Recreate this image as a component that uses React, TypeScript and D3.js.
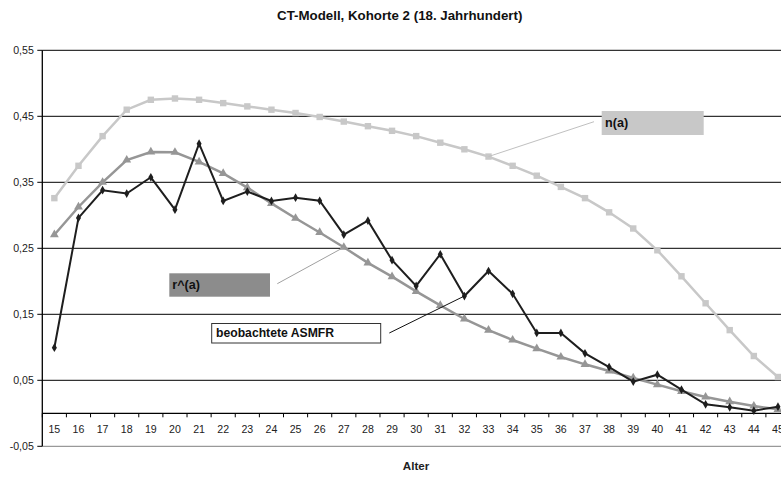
import React from "react";
import * as d3 from "d3";

const ages = d3.range(15, 46).map(String);
const nA = [0.326, 0.375, 0.42, 0.46, 0.475, 0.477, 0.475, 0.47, 0.465, 0.46, 0.455, 0.449, 0.442, 0.435, 0.428, 0.42, 0.41, 0.4, 0.389, 0.375, 0.36, 0.343, 0.326, 0.3045, 0.28, 0.247, 0.2076, 0.1667, 0.126, 0.0868, 0.055];
const rHat = [0.2706, 0.3126, 0.35, 0.3838, 0.396, 0.3955, 0.381, 0.3636, 0.342, 0.318, 0.2955, 0.274, 0.2515, 0.228, 0.207, 0.1848, 0.1636, 0.1429, 0.126, 0.111, 0.098, 0.0853, 0.0742, 0.064, 0.0535, 0.0434, 0.0333, 0.0247, 0.0176, 0.011, 0.006];
const asmfr = [0.0994, 0.296, 0.338, 0.333, 0.3576, 0.3085, 0.4085, 0.3217, 0.336, 0.3217, 0.3267, 0.322, 0.2706, 0.2918, 0.232, 0.193, 0.241, 0.1777, 0.2156, 0.181, 0.1217, 0.1217, 0.0909, 0.07, 0.048, 0.0585, 0.0358, 0.0136, 0.009, 0.004, 0.01];
const yTicks = [-0.05, 0.05, 0.15, 0.25, 0.35, 0.45, 0.55];
const gridVals = [0.05, 0.15, 0.25, 0.35, 0.45, 0.55];

const W = 781, H = 477;
const left = 42.3, bandW = 24.12;
const FONT = "'Liberation Sans', Arial, sans-serif";

export default function App() {
  const x = d3.scaleBand<string>().domain(ages).range([left, left + bandW * ages.length]).paddingInner(0).paddingOuter(0);
  const y = d3.scaleLinear().domain([-0.05, 0.55]).range([446.3, 50.3]);
  const cx = (i: number) => (x(ages[i]) as number) + x.bandwidth() / 2;
  const line = d3.line<number>().x((_, i) => cx(i)).y((d) => y(d));
  const right = left + bandW * ages.length;
  const fmt = (v: number) => v.toFixed(2).replace(".", ",");

  const idx = (a: number) => a - 15;

  return (
    <svg width={W} height={H} style={{ position: "absolute", left: 0, top: 0, background: "#fff" }} fontFamily={FONT}>
      <rect x={0} y={0} width={W} height={H} fill="#fff" />
      <text x={399.7} y={20} textAnchor="middle" fontSize={13.3} fontWeight="bold" fill="#111">CT-Modell, Kohorte 2 (18. Jahrhundert)</text>
      {/* gridlines */}
      {gridVals.map((v) => (
        <line key={v} x1={left} x2={right} y1={y(v)} y2={y(v)} stroke="#000" strokeWidth={1} />
      ))}
      {/* bottom border */}
      <line x1={left} x2={right} y1={y(-0.05)} y2={y(-0.05)} stroke="#808080" strokeWidth={1} />
      {/* y axis */}
      <line x1={left} x2={left} y1={y(0.55)} y2={y(-0.05)} stroke="#000" strokeWidth={1.3} />
      {yTicks.map((v) => (
        <g key={v}>
          <line x1={left - 5} x2={left} y1={y(v)} y2={y(v)} stroke="#000" />
          <text x={left - 8.5} y={y(v) + 3.8} textAnchor="end" fontSize={10.6} fill="#222">{fmt(v)}</text>
        </g>
      ))}
      {/* x axis at 0 */}
      <line x1={left} x2={right} y1={y(0)} y2={y(0)} stroke="#000" strokeWidth={1.2} />
      {ages.map((a, i) => (
        <g key={a}>
          <line x1={x(a) as number} x2={x(a) as number} y1={y(0)} y2={y(0) + 4} stroke="#000" />
          <text x={cx(i)} y={y(0) + 20} textAnchor="middle" fontSize={10.6} fill="#222">{a}</text>
        </g>
      ))}
      <text x={416} y={470} textAnchor="middle" fontSize={11.6} fontWeight="bold" fill="#222">Alter</text>

      {/* n(a) */}
      <path d={line(nA) as string} fill="none" stroke="#c8c8c8" strokeWidth={2.5} />
      {nA.map((v, i) => (
        <rect key={i} x={cx(i) - 3.2} y={y(v) - 3.2} width={6.4} height={6.4} fill="#c8c8c8" />
      ))}
      {/* r^(a) */}
      <path d={line(rHat) as string} fill="none" stroke="#969696" strokeWidth={2.5} />
      {rHat.map((v, i) => (
        <path key={i} d={d3.symbol(d3.symbolTriangle, 34)() as string} transform={`translate(${cx(i)},${y(v)})`} fill="#969696" />
      ))}
      {/* ASMFR */}
      <path d={line(asmfr) as string} fill="none" stroke="#1e1e1e" strokeWidth={2} />
      {asmfr.map((v, i) => (
        <path key={i} d={d3.symbol(d3.symbolDiamond, 22)() as string} transform={`translate(${cx(i)},${y(v)})`} fill="#1e1e1e" />
      ))}

      {/* annotation n(a) */}
      <line x1={cx(idx(33))} y1={y(nA[idx(33)])} x2={594} y2={121.7} stroke="#c0c0c0" strokeWidth={1} />
      <rect x={601.7} y={111} width={102} height={24} fill="#c8c8c8" />
      <text x={605} y={127} fontSize={12.6} fontWeight="bold" fill="#111">n(a)</text>

      {/* annotation r^(a) */}
      <line x1={cx(idx(27))} y1={y(rHat[idx(27)])} x2={277.3} y2={283.7} stroke="#a0a0a0" strokeWidth={1} />
      <rect x={169.3} y={273.3} width={100.7} height={23.4} fill="#8c8c8c" />
      <text x={172.3} y={289} fontSize={12.6} fontWeight="bold" fill="#111">r^(a)</text>

      {/* annotation ASMFR */}
      <line x1={cx(idx(32))} y1={y(asmfr[idx(32)])} x2={389.3} y2={333} stroke="#111" strokeWidth={1} />
      <rect x={211.7} y={323.5} width={169} height={19.5} fill="#fff" stroke="#333" strokeWidth={1} />
      <text x={216} y={337.3} fontSize={12.2} fontWeight="bold" fill="#111">beobachtete ASMFR</text>
    </svg>
  );
}
